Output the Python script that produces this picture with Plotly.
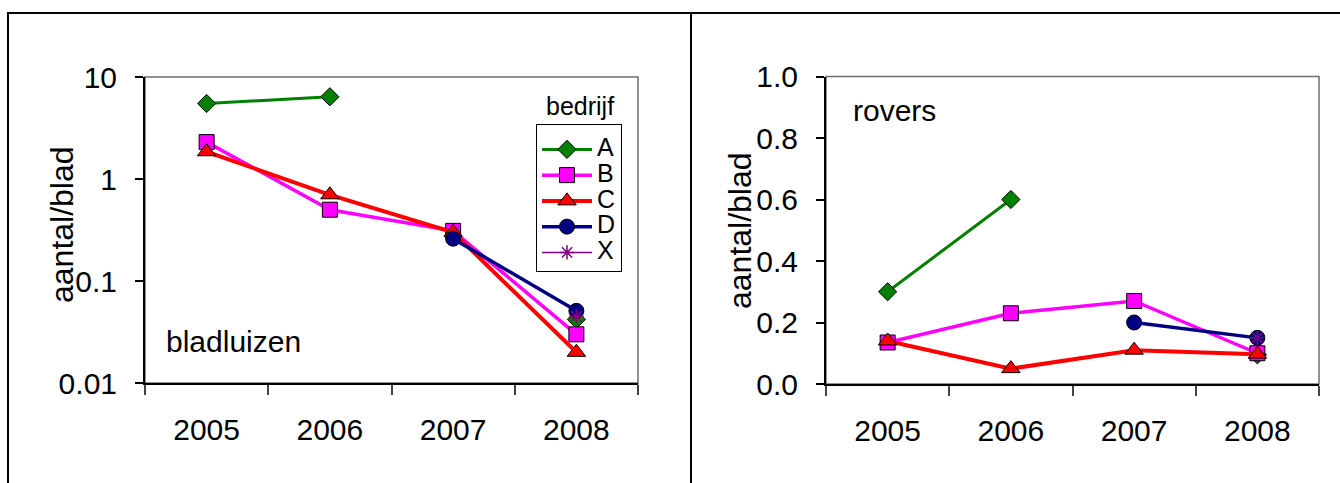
import plotly.graph_objects as go

# ---- data -------------------------------------------------------------
years = ["2005", "2006", "2007", "2008"]
companies = ["A", "B", "C", "D", "X"]

# bladluizen: aantal per blad (log scale)
aphid_A = [5.5, 6.4, None, 0.042]
aphid_B = [2.3, 0.50, 0.31, 0.030]
aphid_C = [1.85, 0.70, 0.30, 0.020]
aphid_D = [None, None, 0.26, 0.051]
aphid_X = [None, None, None, 0.045]

# rovers: aantal per blad (linear scale)
pred_A = [0.30, 0.60, None, 0.095]
pred_B = [0.135, 0.23, 0.27, 0.10]
pred_C = [0.14, 0.05, 0.11, 0.097]
pred_D = [None, None, 0.20, 0.15]
pred_X = [None, None, None, 0.15]

log_tickvals = [0.01, 0.1, 1, 10]
log_ticktext = ["0.01", "0.1", "1", "10"]
lin_tickvals = [0.0, 0.2, 0.4, 0.6, 0.8, 1.0]
lin_ticktext = ["0.0", "0.2", "0.4", "0.6", "0.8", "1.0"]

# ---- styling ------------------------------------------------------------
W, H = 1340, 483
FONT = "Liberation Sans, Arial, sans-serif"

styles = {
    "A": dict(color="#008000", symbol="diamond", size=14, width=3),
    "B": dict(color="#FF00FF", symbol="square", size=15, width=3.5),
    "C": dict(color="#FF0000", symbol="triangle-up", size=16, width=4),
    "D": dict(color="#000080", symbol="circle", size=15, width=3.5),
    "X": dict(color="#800080", symbol="asterisk", size=12, width=1.5),
}


def px_x(p):
    return p / W


def px_y(p):
    return 1 - p / H


aphids = dict(zip(companies, [aphid_A, aphid_B, aphid_C, aphid_D, aphid_X]))
preds = dict(zip(companies, [pred_A, pred_B, pred_C, pred_D, pred_X]))

fig = go.Figure()


def add_series(values, key, xaxis, yaxis, legend):
    st = styles[key]
    marker = dict(symbol=st["symbol"], size=st["size"], color=st["color"],
                  line=dict(color="black", width=1))
    if key == "X":
        marker["line"] = dict(color=st["color"], width=1.5)
    fig.add_trace(go.Scatter(
        x=years, y=values, mode="lines+markers",
        name=f'<span style="font-size:25px">{key}</span>',
        line=dict(color=st["color"], width=st["width"]),
        marker=marker, connectgaps=False,
        xaxis=xaxis, yaxis=yaxis, showlegend=legend,
    ))


for c in companies:
    add_series(aphids[c], c, "x", "y", True)
for c in companies:
    add_series(preds[c], c, "x2", "y2", False)

tickfont = dict(family=FONT, size=30, color="black")

xcommon = dict(type="category", categoryorder="array", categoryarray=years,
               range=[-0.5, 3.5], tickson="boundaries", ticks="outside",
               ticklen=10, tickwidth=1.5, tickcolor="#444",
               showline=True, linecolor="black", linewidth=2,
               showgrid=False, zeroline=False, tickfont=tickfont,
               ticklabelstandoff=19, automargin=False)

ycommon = dict(ticks="outside", ticklen=8, tickwidth=1.5, tickcolor="black",
               showline=True, linecolor="black", linewidth=2,
               showgrid=False, zeroline=False, tickfont=tickfont,
               ticklabelstandoff=12, automargin=False)

fig.update_layout(
    width=W, height=H, autosize=False,
    margin=dict(l=0, r=0, t=0, b=0, pad=0, autoexpand=False),
    paper_bgcolor="white", plot_bgcolor="white",
    font=dict(family=FONT, color="black"),
    xaxis=dict(domain=[px_x(145), px_x(638)], anchor="y", **xcommon),
    yaxis=dict(domain=[px_y(383), px_y(77)], anchor="x", type="log",
               range=[-2, 1], tickvals=log_tickvals, ticktext=log_ticktext,
               **ycommon),
    xaxis2=dict(domain=[px_x(826), px_x(1319)], anchor="y2", **xcommon),
    yaxis2=dict(domain=[px_y(384), px_y(76.5)], anchor="x2",
                range=[0, 1.0], tickvals=lin_tickvals, ticktext=lin_ticktext,
                **ycommon),
    legend=dict(x=px_x(536), y=px_y(124), xanchor="left", yanchor="top",
                bordercolor="black", borderwidth=1, bgcolor="white",
                font=dict(family=FONT, size=17.5, color="black"),
                title=dict(text=" ", font=dict(family=FONT, size=5)),
                itemwidth=50, tracegroupgap=0),
    showlegend=True,
)

# plot-area frames (grey) and outer panel borders
for xr, yr in (("x domain", "y domain"), ("x2 domain", "y2 domain")):
    fig.add_shape(type="rect", xref=xr, yref=yr, x0=0, x1=1, y0=0, y1=1,
                  line=dict(color="#6E6E6E", width=1.5), layer="below")

fig.add_shape(type="rect", xref="paper", yref="paper",
              x0=px_x(8), x1=px_x(1350), y0=px_y(495), y1=px_y(13),
              line=dict(color="black", width=2))
fig.add_shape(type="line", xref="paper", yref="paper",
              x0=px_x(691), x1=px_x(691), y0=px_y(495), y1=px_y(13),
              line=dict(color="black", width=2))

# axis titles and panel labels
fig.add_annotation(text="aantal/blad", xref="paper", yref="paper",
                   x=px_x(62), y=px_y(225), xanchor="center", yanchor="middle",
                   textangle=-90, showarrow=False,
                   font=dict(family=FONT, size=32))
fig.add_annotation(text="aantal/blad", xref="paper", yref="paper",
                   x=px_x(740), y=px_y(231), xanchor="center", yanchor="middle",
                   textangle=-90, showarrow=False,
                   font=dict(family=FONT, size=32))
fig.add_annotation(text="bladluizen", xref="paper", yref="paper",
                   x=px_x(164), y=px_y(341), xanchor="left", yanchor="middle",
                   showarrow=False, font=dict(family=FONT, size=30))
fig.add_annotation(text="rovers", xref="paper", yref="paper",
                   x=px_x(851), y=px_y(110), xanchor="left", yanchor="middle",
                   showarrow=False, font=dict(family=FONT, size=30))
fig.add_annotation(text="bedrijf", xref="paper", yref="paper",
                   x=px_x(544), y=px_y(106), xanchor="left", yanchor="middle",
                   showarrow=False, font=dict(family=FONT, size=25))

fig.write_html("out.html")
